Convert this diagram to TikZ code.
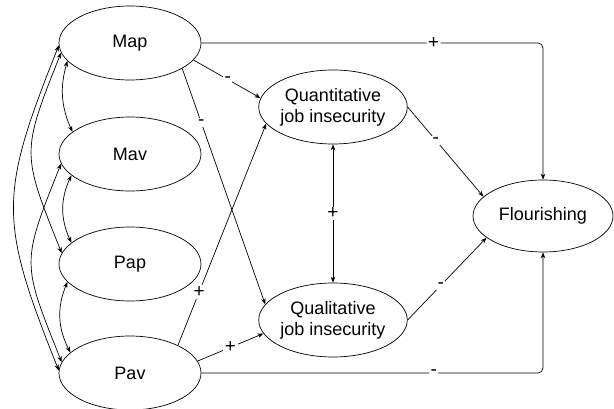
\documentclass[tikz,border=0pt]{standalone}
\usepackage{fontspec}
\setmainfont{Liberation Sans}
\usetikzlibrary{shapes.geometric,arrows.meta}
\begin{document}
\begin{tikzpicture}[x=1pt,y=1pt,
 var/.style={draw, ellipse, line width=0.7pt, minimum width=142pt, minimum height=74pt, inner sep=0pt, align=center, font=\fontsize{18}{21}\selectfont},
 lnk/.style={line width=0.7pt, -{Stealth[length=6pt,width=4.5pt]}},
 cov/.style={line width=0.7pt, {Stealth[length=6pt,width=4.5pt]}-{Stealth[length=6pt,width=4.5pt]}},
 sgn/.style={fill=white, inner sep=1.5pt, font=\fontsize{19}{21}\selectfont}]
\useasboundingbox (0,0) rectangle (614,-409);
\node[var] (map) at (130,-43) {Map};
\node[var] (mav) at (130,-154) {Mav};
\node[var] (pap) at (130,-264) {Pap};
\node[var] (pav) at (130,-373) {Pav};
\node[var, minimum width=140pt] (qn) at (333,-107) {Quantitative\\job insecurity};
\node[var, minimum width=140pt] (ql) at (333,-320) {Qualitative\\job insecurity};
\node[var, minimum width=140pt, minimum height=72pt] (fl) at (543,-216) {Flourishing};
% direct paths
\draw[lnk, rounded corners=5pt] (map.east) -| node[sgn, pos=0.34]{+} (fl.north);
\draw[lnk, rounded corners=5pt] (pav.east) -| node[sgn, pos=0.34]{-} (fl.south);
\draw[lnk] (map.-15) -- node[sgn, pos=0.51]{-} (qn.173);
\draw[lnk] (map.-26) -- node[sgn, pos=0.23]{-} (ql.167);
\draw[lnk] (pav.30) -- node[sgn, pos=0.24]{+} (qn.194);
\draw[lnk] (pav.10) -- node[sgn, pos=0.5]{+} (ql.191);
\draw[lnk] (qn.east) -- node[sgn, pos=0.37]{-} (fl.162);
\draw[lnk] (ql.east) -- node[sgn, pos=0.42]{-} (fl.201);
\draw[cov] (qn.south) -- node[sgn]{+} (ql.north);
% covariances
\draw[cov] (map.196) to[bend right=20] (mav.159);
\draw[cov] (mav.200) to[bend right=25] (pap.160);
\draw[cov] (pap.196) to[bend right=25] (pav.161);
\draw[cov] (map.188) .. controls +(-40,-100) and +(-40,100) .. (pap.171);
\draw[cov] (mav.188) .. controls +(-40,-100) and +(-40,100) .. (pav.171);
\draw[cov] (map.182) .. controls +(-60,-150) and +(-60,150) .. (pav.178);
\end{tikzpicture}
\end{document}
